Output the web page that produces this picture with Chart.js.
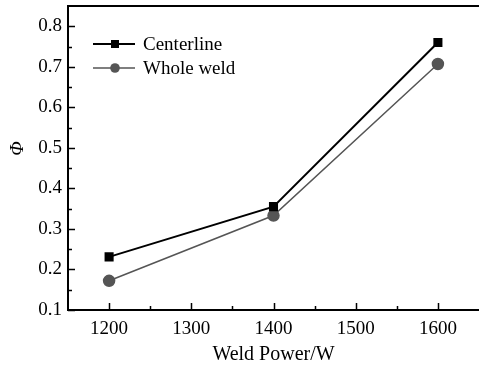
<!DOCTYPE html>
<html>
<head>
<meta charset="utf-8">
<script src="https://cdn.jsdelivr.net/npm/chart.js@4"></script>
<style>
  html, body { margin: 0; padding: 0; background: #fff; overflow: hidden; }
  #wrap { width: 479px; height: 367px; }
</style>
</head>
<body>
<div id="wrap"><canvas id="chart" width="479" height="367"></canvas></div>
<script>
const power = [1200, 1400, 1600];
const centerline = [0.231, 0.355, 0.760];
const wholeWeld = [0.172, 0.333, 0.707];
const xTicks = [1200, 1300, 1400, 1500, 1600];
const yTicks = [0.1, 0.2, 0.3, 0.4, 0.5, 0.6, 0.7, 0.8];
const seriesNames = ['Centerline', 'Whole weld'];

const SERIF = '"Liberation Serif", "DejaVu Serif", serif';

// frame + inward ticks (major and minor) + legend
const framePlugin = {
  id: 'frame',
  afterDraw(chart) {
    const { ctx, chartArea: a, scales } = chart;
    ctx.save();
    ctx.strokeStyle = '#000';
    ctx.lineWidth = 2;
    // right side of the box falls just outside the picture
    ctx.beginPath();
    ctx.moveTo(a.right + 2, a.top);
    ctx.lineTo(a.left, a.top);
    ctx.lineTo(a.left, a.bottom);
    ctx.lineTo(a.right + 2, a.bottom);
    ctx.stroke();
    ctx.lineWidth = 1.5;
    ctx.beginPath();
    xTicks.forEach(v => {
      const x = Math.round(scales.x.getPixelForValue(v)) + 0.5;
      ctx.moveTo(x, a.bottom); ctx.lineTo(x, a.bottom - 7);
      const m = scales.x.getPixelForValue(v + 50);
      if (m < a.right - 2) { ctx.moveTo(Math.round(m) + 0.5, a.bottom); ctx.lineTo(Math.round(m) + 0.5, a.bottom - 4); }
    });
    yTicks.forEach(v => {
      const y = Math.round(scales.y.getPixelForValue(v)) + 0.5;
      ctx.moveTo(a.left, y); ctx.lineTo(a.left + 7, y);
      const m = scales.y.getPixelForValue(v + 0.05);
      if (m > a.top + 2) { ctx.moveTo(a.left, Math.round(m) + 0.5); ctx.lineTo(a.left + 4, Math.round(m) + 0.5); }
    });
    ctx.stroke();

    chart.data.datasets.forEach((ds, i) => {
      const y = 44 + i * 24;
      ctx.strokeStyle = ds.borderColor;
      ctx.lineWidth = ds.borderWidth;
      ctx.beginPath();
      ctx.moveTo(93, y); ctx.lineTo(135, y);
      ctx.stroke();
      ctx.fillStyle = ds.pointBackgroundColor;
      if (ds.pointStyle === 'rect') {
        ctx.fillRect(111, y - 4, 8, 8);
      } else {
        ctx.beginPath(); ctx.arc(115, y, 4.8, 0, Math.PI * 2); ctx.fill();
      }
      ctx.fillStyle = '#000';
      ctx.font = '19px ' + SERIF;
      ctx.textBaseline = 'middle';
      ctx.fillText(ds.label, 143, y + 1);
    });
    ctx.restore();
  }
};

new Chart(document.getElementById('chart'), {
  type: 'line',
  data: {
    datasets: [
      {
        label: seriesNames[0],
        data: power.map((p, i) => ({ x: p, y: centerline[i] })),
        borderColor: '#000',
        backgroundColor: '#000',
        pointBackgroundColor: '#000',
        pointBorderColor: '#000',
        pointStyle: 'rect',
        pointRadius: 5,
        borderWidth: 2,
        tension: 0
      },
      {
        label: seriesNames[1],
        data: power.map((p, i) => ({ x: p, y: wholeWeld[i] })),
        borderColor: '#555',
        backgroundColor: '#555',
        pointBackgroundColor: '#555',
        pointBorderColor: '#555',
        pointStyle: 'circle',
        pointRadius: 5.5,
        borderWidth: 1.5,
        tension: 0
      }
    ]
  },
  options: {
    responsive: false,
    animation: false,
    events: [],
    layout: { autoPadding: false, padding: { top: 6, right: -2, left: 0, bottom: 0 } },
    plugins: { legend: { display: false }, tooltip: { enabled: false } },
    scales: {
      x: {
        type: 'linear',
        min: 1150,
        max: 1650,
        afterBuildTicks: s => { s.ticks = xTicks.map(v => ({ value: v })); },
        afterFit: s => { s.height = 57; s.paddingLeft = 0; s.paddingRight = 0; },
        grid: { display: false, drawTicks: false },
        border: { display: false },
        ticks: { color: '#000', padding: 8, font: { family: SERIF, size: 19 }, callback: v => String(v) },
        title: { display: true, text: 'Weld Power/W', color: '#000', padding: { top: 2, bottom: 0 }, font: { family: SERIF, size: 20 } }
      },
      y: {
        min: 0.1,
        max: 0.85,
        afterBuildTicks: s => { s.ticks = yTicks.map(v => ({ value: v })); },
        afterFit: s => { s.width = 68; s.paddingTop = 0; s.paddingBottom = 0; },
        grid: { display: false, drawTicks: false },
        border: { display: false },
        ticks: { color: '#000', padding: 6, font: { family: SERIF, size: 19 }, callback: v => v.toFixed(1) },
        title: { display: true, text: '    Φ', color: '#000', padding: { top: 7, bottom: 0 }, font: { family: SERIF, size: 19, style: 'italic' } }
      }
    }
  },
  plugins: [framePlugin]
});
</script>
</body>
</html>
